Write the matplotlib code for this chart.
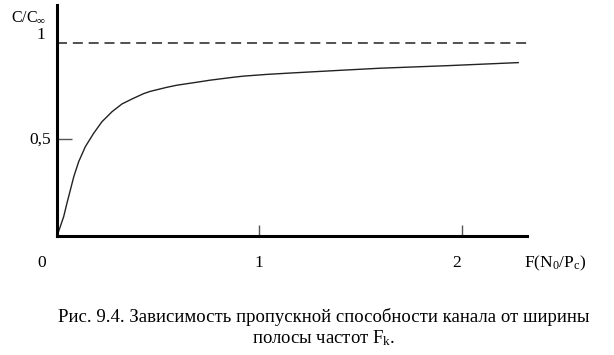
import numpy as np
import matplotlib.pyplot as plt

plt.rcParams['font.family'] = ['Liberation Serif', 'DejaVu Serif']
plt.rcParams['mathtext.fontset'] = 'custom'
plt.rcParams['mathtext.rm'] = 'Liberation Serif'
plt.rcParams['mathtext.it'] = 'Liberation Serif'

# curve
f_vals = [0.0, 0.016, 0.033, 0.049, 0.066, 0.083, 0.107, 0.140, 0.181, 0.222,
          0.272, 0.321, 0.371, 0.427, 0.460, 0.542, 0.592, 0.707, 0.756, 0.870,
          0.921, 1.037, 1.152, 1.380, 1.597, 1.926, 2.280]
c_vals = [0.0, 0.048, 0.100, 0.169, 0.238, 0.307, 0.384, 0.462, 0.531, 0.591,
          0.643, 0.683, 0.709, 0.736, 0.748, 0.769, 0.780, 0.798, 0.806, 0.821,
          0.827, 0.836, 0.843, 0.856, 0.868, 0.881, 0.897]
limit = 1.0
x_ticks = [1, 2]
y_ticks = [0.5]

W, H = 614, 355
fig = plt.figure(figsize=(W / 100, H / 100), dpi=100)

def px(x, y):
    return x / W, 1 - y / H

x0, y0, x1, y1 = 57, 236, 527, 5
ax = fig.add_axes([x0 / W, 1 - y0 / H, (x1 - x0) / W, (y0 - y1) / H])
ax.set_xlim(0, (x1 - x0) / 202.3)
ax.set_ylim(0, (y0 - y1) / 193.3)

ax.plot(f_vals, c_vals, color='#222222', lw=1.0)
ax.axhline(limit, color='#333333', lw=1.2, ls=(0, (6, 3.5)))

for s in ['top', 'right']:
    ax.spines[s].set_visible(False)
for s in ['left', 'bottom']:
    ax.spines[s].set_linewidth(2.2)
ax.set_xticks(x_ticks)
ax.set_yticks(y_ticks)
ax.tick_params(axis='x', direction='in', length=8, width=1, color='#555555',
               labelbottom=False)
ax.tick_params(axis='y', direction='in', length=11, width=1, color='#555555',
               labelleft=False)

fs = 12.5
fig.text(*px(29, 18), r'C/C$_\infty$', fontsize=11.5, ha='center', va='center')
fig.text(*px(41, 35), '1', fontsize=fs, ha='center', va='center')
fig.text(*px(40, 140), '0,5', fontsize=fs, ha='center', va='center')
fig.text(*px(42, 263), '0', fontsize=fs, ha='center', va='center')
fig.text(*px(259, 263), '1', fontsize=fs, ha='center', va='center')
fig.text(*px(457, 263), '2', fontsize=fs, ha='center', va='center')
fig.text(*px(555, 263), r'F(N$_0$/P$_c$)', fontsize=fs, ha='center', va='center')

fig.text(*px(324, 317), 'Рис. 9.4. Зависимость пропускной способности канала от ширины',
         fontsize=13.5, ha='center', va='center')
fig.text(*px(324, 338), r'полосы частот F$_\mathrm{k}$.', fontsize=13.5, ha='center', va='center')

fig.savefig('out.png', dpi=100)
